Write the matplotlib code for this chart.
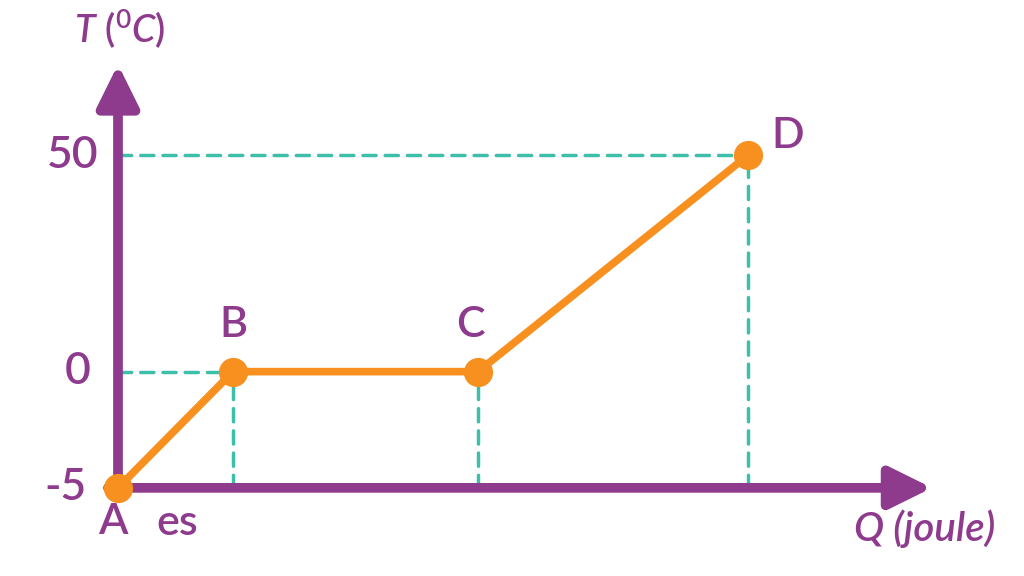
import numpy as np
import matplotlib
matplotlib.use('Agg')
import matplotlib.pyplot as plt

# data
points = ['A', 'B', 'C', 'D']
Q = [0, 1.15, 3.6, 6.3]
T = [-5, 0, 0, 50]
y_ticks = [-5, 0, 50]

purple = '#8E3A8D'
orange = '#F7901E'
teal = '#3DBFAA'

plt.rcParams['font.family'] = ['Lato', 'DejaVu Sans']
plt.rcParams['font.weight'] = 'semibold'
plt.rcParams['mathtext.fontset'] = 'custom'
plt.rcParams['mathtext.rm'] = 'Lato:semibold'
plt.rcParams['mathtext.it'] = 'Lato:italic:semibold'


# the sketch is not to scale: 5 degrees below zero take 116 px, 50 above take 216 px
def fwd(t):
    t = np.asarray(t, dtype=float)
    return np.where(t < 0, t * 23.2, t * 4.32)


def inv(p):
    p = np.asarray(p, dtype=float)
    return np.where(p < 0, p / 23.2, p / 4.32)


fig = plt.figure(figsize=(10.24, 5.76), dpi=100)
ax = fig.add_axes([0, 0, 1, 1])
ax.set_yscale('function', functions=(fwd, inv))
ax.set_xlim(-1.18, 9.06)
ax.set_ylim(-5 - 88 / 23.2, 50 + 155 / 4.32)
ax.axis('off')

# dashed guides
dash = dict(color=teal, lw=2.5, ls=(0, (3.8, 2.6)), dash_capstyle='round',
            zorder=1)
for q, t in zip(Q[1:], T[1:]):
    ax.plot([q, q], [-5, t], **dash)
ax.plot([0, Q[1]], [0, 0], **dash)
ax.plot([0, Q[3]], [50, 50], **dash)

# axes with arrows
arr = dict(arrowstyle='-|>,head_length=0.85,head_width=0.42', color=purple,
           lw=7, mutation_scale=30, shrinkA=0, shrinkB=0)
ax.annotate('', xy=(0, 71), xytext=(0, -5.25), arrowprops=arr, zorder=2)
ax.annotate('', xy=(8.14, -5), xytext=(-0.1, -5), arrowprops=arr, zorder=2)

# curve
ax.plot(Q, T, color=orange, lw=5.5, marker='o', ms=20, zorder=4,
        solid_capstyle='round')

# tick labels (right edges are a little ragged in the original)
label_x = {-5: -0.31, 0: -0.27, 50: -0.2}
for t in y_ticks:
    ax.text(label_x[t], t, str(t), ha='right', va='center', fontsize=32,
            color=purple, zorder=5)

# point labels
offsets = {'A': (-0.05, -6.45), 'B': (0, 10.8),
           'C': (-0.08, 10.8), 'D': (0.4, 54.5)}
for name, q, t in zip(points, Q, T):
    dx, ty = offsets[name]
    ax.text(q + dx, ty, name, ha='center', va='center', fontsize=31,
            color=purple, zorder=5)
ax.text(0.59, -6.5, 'es', ha='center', va='center', fontsize=31,
        color=purple)

# axis titles
ax.text(0.02, 79, r'$\mathit{T\ (^{0}C)}$', ha='center', va='center',
        fontsize=27, color=purple)
ax.text(8.07, -6.75, 'Q (joule)', ha='center', va='center', fontsize=29,
        color=purple, style='italic')

fig.savefig('out.png', dpi=100)
